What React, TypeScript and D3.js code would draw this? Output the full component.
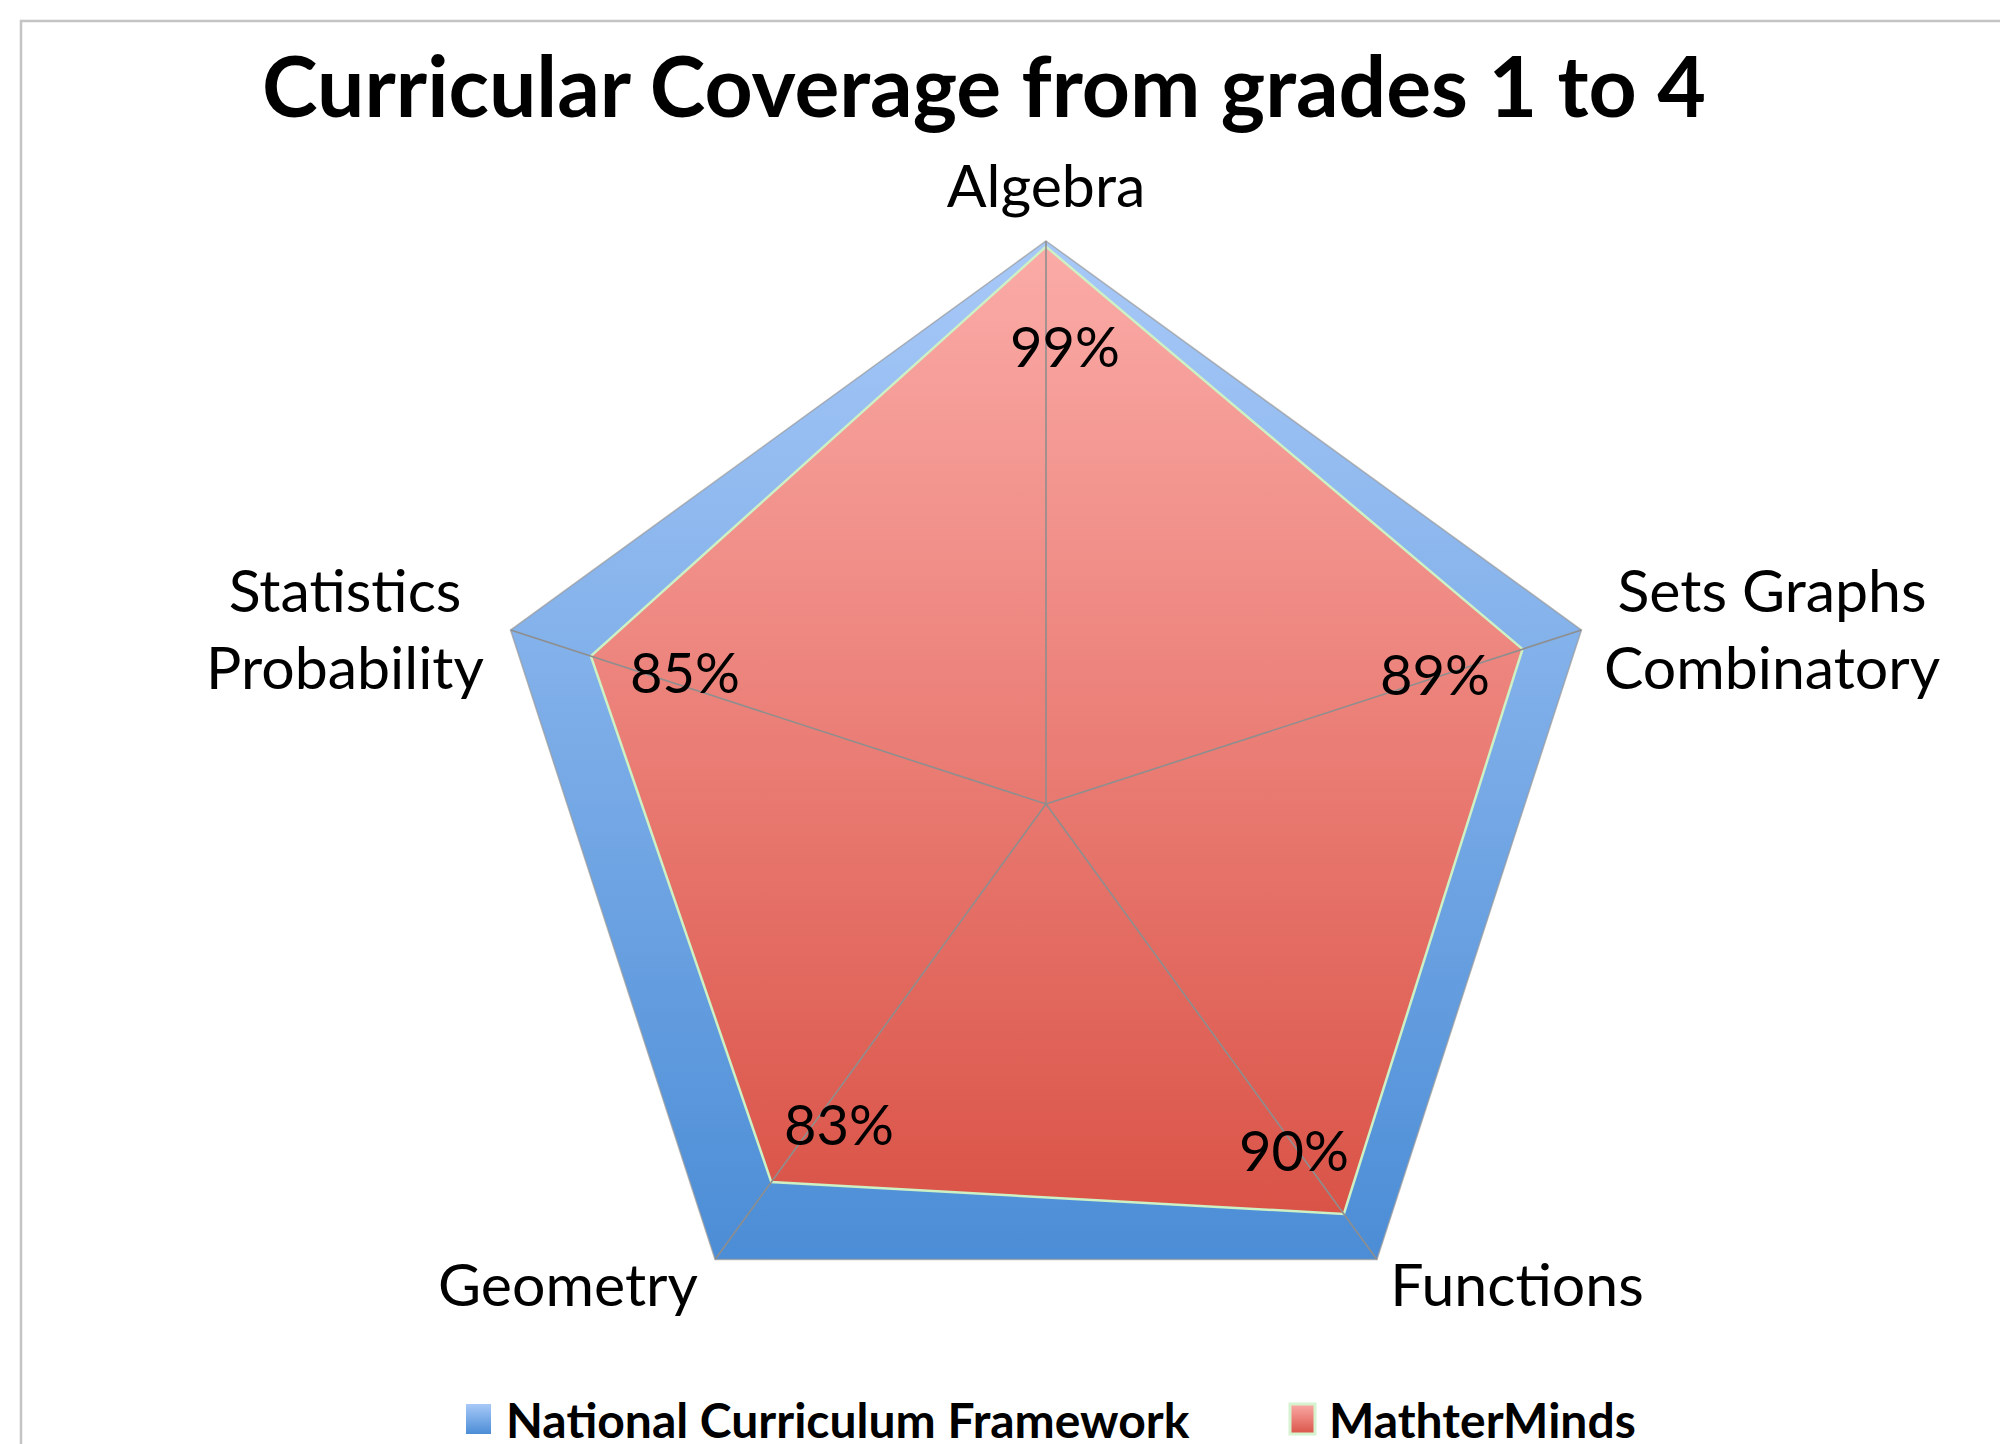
import React from "react";
import * as d3 from "d3";

const categories = ["Algebra", "Sets Graphs\nCombinatory", "Functions", "Geometry", "Statistics\nProbability"];
const nationalValues = [1, 1, 1, 1, 1];
const mathterValues = [0.99, 0.89, 0.9, 0.83, 0.85];
const seriesNames = ["National Curriculum Framework", "MathterMinds"];
const title = "Curricular Coverage from grades 1 to 4";

const W = 2000;
const H = 1444;
const CX = 1046;
const CY = 804;
const R = 563;

export default function App() {
  const n = categories.length;
  const angle = d3.scaleLinear().domain([0, n]).range([0, 2 * Math.PI]);
  const r = d3.scaleLinear().domain([0, 1]).range([0, R]);
  const radial = d3
    .lineRadial<number>()
    .angle((_, i) => angle(i))
    .radius((d) => r(d))
    .curve(d3.curveLinearClosed);

  const pt = (i: number, v: number) => {
    const a = angle(i);
    return [CX + r(v) * Math.sin(a), CY - r(v) * Math.cos(a)];
  };

  const font = "Lato, 'Open Sans', sans-serif";

  const catPos = [
    { x: 1046, y: 207 },
    { x: 1772, y: 612 },
    { x: 1517, y: 1306 },
    { x: 568, y: 1306 },
    { x: 345, y: 612 },
  ];
  const dataPos = [
    { x: 1065, y: 367 },
    { x: 1435, y: 695 },
    { x: 1294, y: 1171 },
    { x: 839, y: 1145 },
    { x: 685, y: 693 },
  ];

  return (
    <svg
      width={W}
      height={H}
      style={{ position: "absolute", left: 0, top: 0, background: "#fff" }}
      fontFamily={font}
    >
      <defs>
        <linearGradient id="blueG" x1="0" y1="0" x2="0" y2="1">
          <stop offset="0" stopColor="#a8c9f8" />
          <stop offset="1" stopColor="#4b8dd6" />
        </linearGradient>
        <linearGradient id="redG" x1="0" y1="0" x2="0" y2="1">
          <stop offset="0" stopColor="#fbaba7" />
          <stop offset="1" stopColor="#da5347" />
        </linearGradient>
        <linearGradient id="blueL" x1="0" y1="0" x2="0" y2="1">
          <stop offset="0" stopColor="#a8c9f8" />
          <stop offset="1" stopColor="#4b8dd6" />
        </linearGradient>
        <linearGradient id="redL" x1="0" y1="0" x2="0" y2="1">
          <stop offset="0" stopColor="#fbaba7" />
          <stop offset="1" stopColor="#da5347" />
        </linearGradient>
      </defs>
      <rect x={0} y={0} width={W} height={H} fill="#fff" />
      <rect x={21} y={21} width={W + 100} height={H + 100} fill="#fff" stroke="#c4c4c4" strokeWidth={2.5} />

      <text x={984} y={117} textAnchor="middle" fontWeight={700} fontSize={84} fill="#000">
        {title}
      </text>

      <g transform={`translate(${CX},${CY})`}>
        <path d={radial(nationalValues) as string} fill="url(#blueG)" stroke="#9a9a9a" strokeOpacity={0.7} strokeWidth={1.5} />
        <path d={radial(mathterValues) as string} fill="url(#redG)" stroke="#cdf0c4" strokeWidth={2.5} />
      </g>
      {categories.map((_, i) => {
        const [x, y] = pt(i, 1);
        return <line key={i} x1={CX} y1={CY} x2={x} y2={y} stroke="#8e8e8e" strokeWidth={1.6} />;
      })}

      {categories.map((c, i) => {
        const lines = c.split("\n");
        return (
          <text key={c} x={catPos[i].x} y={catPos[i].y} textAnchor="middle" fontSize={59} fill="#000">
            {lines.map((l, j) => (
              <tspan key={j} x={catPos[i].x} dy={j === 0 ? 0 : 77}>
                {l}
              </tspan>
            ))}
          </text>
        );
      })}

      {mathterValues.map((v, i) => (
        <text key={i} x={dataPos[i].x} y={dataPos[i].y} textAnchor="middle" fontSize={56} fill="#000">
          {d3.format(".0%")(v)}
        </text>
      ))}

      <g>
        <rect x={466} y={1404} width={25} height={30} fill="url(#blueL)" />
        <text x={506} y={1438} fontWeight={700} fontSize={48} fill="#000">
          {seriesNames[0]}
        </text>
        <rect x={1290} y={1404} width={25} height={30} fill="url(#redL)" stroke="#d6f3cf" strokeWidth={3} />
        <text x={1329} y={1438} fontWeight={700} fontSize={48} fill="#000">
          {seriesNames[1]}
        </text>
      </g>
    </svg>
  );
}
